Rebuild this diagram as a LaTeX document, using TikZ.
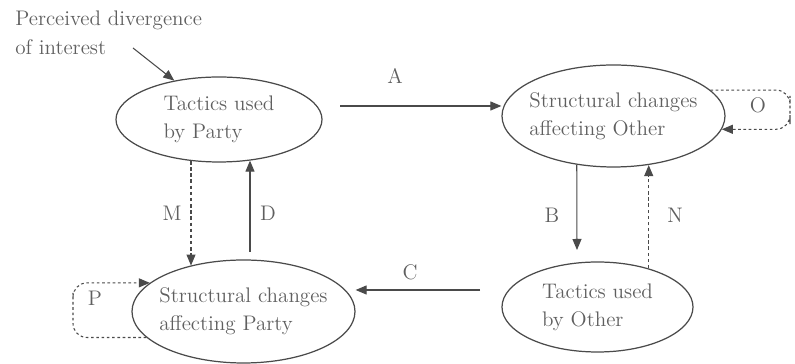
\documentclass[tikz,border=0pt]{standalone}
\usepackage{xcolor}
\definecolor{conflictText}{HTML}{5F5F5F}
\definecolor{conflictLine}{HTML}{4A4A4A}
\usepackage{tikz}
\usetikzlibrary{arrows.meta,shapes.geometric,calc}

\begin{document}
\begin{tikzpicture}[>={Triangle[length=2.2mm,width=1.8mm]}, font=\fontsize{12}{16}\selectfont,
    state/.style={draw=conflictLine, ellipse, line width=0.7pt, inner xsep=-3mm, inner ysep=0pt,
                  text=conflictText, align=left},
    lbl/.style={text=conflictText},
    link/.style={->, draw=conflictLine, line width=0.6pt},
    dashlink/.style={link, dash pattern=on 2pt off 1.5pt},
    looplink/.style={link, dash pattern=on 1.5pt off 1.5pt, rounded corners=8pt}]

    % Page frame
    \useasboundingbox (0,0) rectangle (15.9,7.28);

    % Outside trigger
    \node[lbl, align=left, anchor=north west, inner sep=0pt] (perceived) at (0.30,7.06)
        {Perceived divergence\\of interest};
    \coordinate (pStart) at (2.66,6.32);

    % The four states
    \node[state, minimum width=4.12cm, minimum height=1.70cm] (party) at (4.38,4.89)
        {Tactics used\\by Party};
    \node[state, minimum width=4.46cm, minimum height=2.04cm] (other) at (12.27,4.96)
        {Structural changes\\affecting Other};
    \node[state, minimum width=4.46cm, minimum height=2.06cm] (partyStr) at (4.87,1.05)
        {Structural changes\\affecting Party};
    \node[state, minimum width=3.82cm, minimum height=1.80cm] (otherTac) at (11.95,1.14)
        {Tactics used\\by Other};

    % Free ends
    \coordinate (aStart) at (6.80,5.16);
    \coordinate (bEnd) at (11.54,2.28);
    \coordinate (cStart) at (9.60,1.48);
    \coordinate (dStart) at (5.00,2.24);
    \coordinate (oCorner) at (15.80,5.08);
    \coordinate (pCorner) at (1.46,1.14);

    % Connectors
    \draw[link] (pStart) -- (party.139);
    \draw[link] (aStart) -- (aStart -| other.west);
    \draw[link] (other.233) -- (bEnd);
    \draw[link] (cStart) -- (cStart -| partyStr.east);
    \draw[link] (dStart) -- (dStart |- party.307);
    \draw[dashlink] (party.236) -- (party.236 |- partyStr.139);
    \draw[dashlink] (otherTac.37) -- (otherTac.37 |- other.305);
    \draw[looplink] (other.15) -| (oCorner) |- (other.353);
    \draw[looplink] (partyStr.195) -| (pCorner) |- (partyStr.163);

    % Letters
    \node[lbl] (labA) at (7.90,5.76) {A};
    \node[lbl] (labB) at (11.04,2.98) {B};
    \node[lbl] (labC) at (8.20,1.84) {C};
    \node[lbl] (labD) at (5.36,3.02) {D};
    \node[lbl] (labM) at (3.44,3.02) {M};
    \node[lbl] (labN) at (13.50,2.98) {N};
    \node[lbl] (labO) at (15.16,5.18) {O};
    \node[lbl] (labP) at (1.90,1.32) {P};

\end{tikzpicture}
\end{document}
